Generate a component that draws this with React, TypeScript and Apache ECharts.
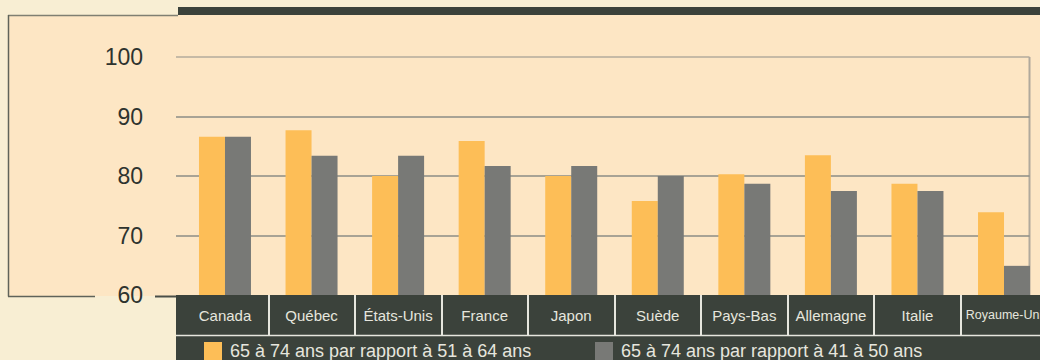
import React, { useEffect, useRef } from "react";
import * as echarts from "echarts";

const categories = ["Canada", "Québec", "États-Unis", "France", "Japon", "Suède", "Pays-Bas", "Allemagne", "Italie", "Royaume-Uni"];
const seriesNames = ["65 à 74 ans par rapport à 51 à 64 ans", "65 à 74 ans par rapport à 41 à 50 ans"];
const values51to64 = [86.6, 87.7, 80.0, 85.9, 80.0, 75.8, 80.3, 83.5, 78.7, 73.9];
const values41to50 = [86.6, 83.4, 83.4, 81.7, 81.7, 80.0, 78.7, 77.5, 77.5, 64.9];
const yMin = 60;
const yMax = 100;
const yStep = 10;

const FONT = "'Liberation Sans', Arial, Helvetica, sans-serif";
const YELLOW = "#fdbe57";
const GRAY = "#787976";
const DARK = "#3b423b";
const LIGHT = "#e6e6de";
const PEACH = "#fde6c4";
const CREAM = "#f8eed3";

export default function App() {
  const ref = useRef<HTMLDivElement>(null);

  useEffect(() => {
    if (!ref.current) return;
    const chart = echarts.init(ref.current, null, { renderer: "svg" });
    const lastCat = categories[categories.length - 1];
    chart.setOption({
      animation: false,
      backgroundColor: CREAM,
      textStyle: { fontFamily: FONT },
      grid: [
        { left: 176, top: 57, width: 853.5, height: 238 },
        { left: 181.7, top: 57, width: 865.6, height: 238 },
      ],
      xAxis: [
        { gridIndex: 0, type: "value", min: 0, max: 1, show: false },
        {
          gridIndex: 1,
          type: "category",
          data: categories,
          axisLine: { show: false },
          axisTick: {
            show: true,
            length: 40,
            interval: (index: number) => index !== 0,
            lineStyle: { color: LIGHT, width: 2 },
          },
          axisLabel: {
            interval: 0,
            color: LIGHT,
            fontSize: 15,
            lineHeight: 16,
            margin: 12,
            fontFamily: FONT,
            formatter: (v: string) => (v === lastCat ? `{s|${v}}` : v),
            rich: { s: { fontSize: 12.5, color: LIGHT, fontFamily: FONT, lineHeight: 16 } },
          },
        },
      ],
      yAxis: [
        {
          gridIndex: 0,
          type: "value",
          min: yMin,
          max: yMax,
          interval: yStep,
          axisLine: { show: false },
          axisTick: { show: false },
          axisLabel: { color: "#2e332e", fontSize: 23, margin: 33, fontFamily: FONT },
          splitLine: {
            show: true,
            lineStyle: { color: ["transparent", "#8b8c86", "#8b8c86", "#8b8c86", "#b3ab9d"], width: 1.5 },
          },
        },
        { gridIndex: 1, type: "value", min: yMin, max: yMax, interval: yStep, show: false },
      ],
      legend: [
        {
          left: 204,
          top: 342,
          padding: 0,
          data: [seriesNames[0]],
          icon: "rect",
          itemWidth: 18,
          itemHeight: 18,
          selectedMode: false,
          textStyle: { color: LIGHT, fontSize: 18, fontFamily: FONT, padding: [0, 0, 0, 3] },
        },
        {
          left: 595,
          top: 342,
          padding: 0,
          data: [seriesNames[1]],
          icon: "rect",
          itemWidth: 18,
          itemHeight: 18,
          selectedMode: false,
          textStyle: { color: LIGHT, fontSize: 18, fontFamily: FONT, padding: [0, 0, 0, 3] },
        },
      ],
      series: [
        {
          name: seriesNames[0],
          type: "bar",
          xAxisIndex: 1,
          yAxisIndex: 1,
          data: values51to64,
          barWidth: 26,
          barGap: "0%",
          itemStyle: { color: YELLOW },
        },
        {
          name: seriesNames[1],
          type: "bar",
          xAxisIndex: 1,
          yAxisIndex: 1,
          data: values41to50,
          barWidth: 26,
          barGap: "0%",
          itemStyle: { color: GRAY },
        },
      ],
      graphic: [
        { type: "rect", z: -10, shape: { x: 8, y: 15, width: 1060, height: 281 }, style: { fill: PEACH } },
        { type: "rect", z: -5, shape: { x: 178, y: 7, width: 890, height: 8 }, style: { fill: DARK } },
        { type: "line", z: -5, shape: { x1: 8, y1: 15.5, x2: 178, y2: 15.5 }, style: { stroke: "#7f7f72", lineWidth: 1.5 } },
        { type: "line", z: -5, shape: { x1: 8.5, y1: 15, x2: 8.5, y2: 296.5 }, style: { stroke: "#5f635a", lineWidth: 1.5 } },
        { type: "line", z: -5, shape: { x1: 8, y1: 296.5, x2: 95, y2: 296.5 }, style: { stroke: "#5f635a", lineWidth: 1.5 } },
        { type: "line", z: -5, shape: { x1: 155, y1: 296.5, x2: 177, y2: 296.5 }, style: { stroke: "#4a4f48", lineWidth: 2 } },
        { type: "line", z: -5, shape: { x1: 1029.5, y1: 57, x2: 1029.5, y2: 295 }, style: { stroke: "#b0a99c", lineWidth: 2 } },
        { type: "rect", z: -1, shape: { x: 176, y: 295, width: 890, height: 65 }, style: { fill: DARK } },
        { type: "line", z: 5, shape: { x1: 176, y1: 335.5, x2: 1068, y2: 335.5 }, style: { stroke: LIGHT, lineWidth: 1.5 } },
      ],
    });
    return () => chart.dispose();
  }, []);

  return (
    <div
      ref={ref}
      style={{ position: "fixed", left: 0, top: 0, width: 1068, height: 360 }}
    />
  );
}
